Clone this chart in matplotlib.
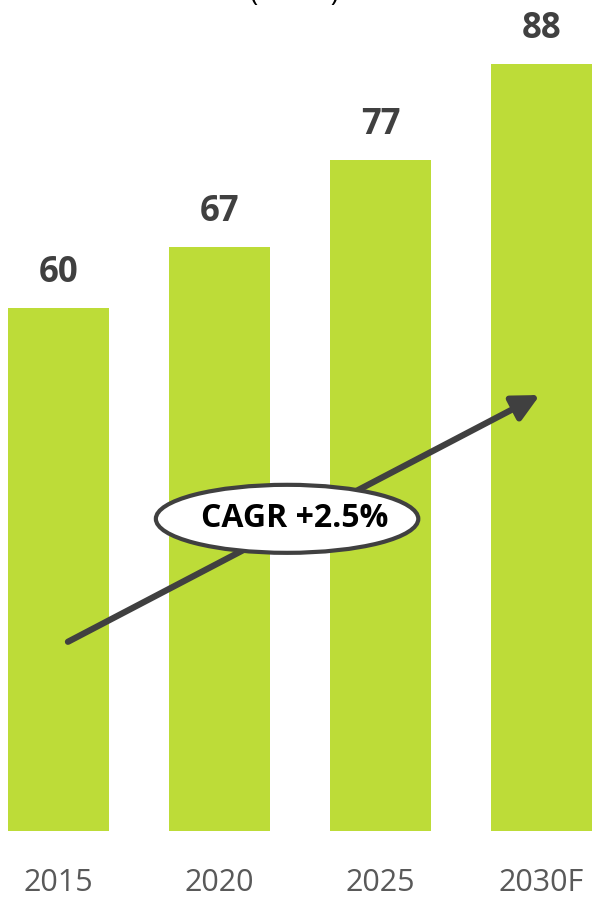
import matplotlib.pyplot as plt
from matplotlib.patches import Ellipse

# dados do gráfico
anos = ["2015", "2020", "2025", "2030F"]
valores = [60, 67, 77, 88]
cagr_texto = "CAGR +2.5%"

plt.rcParams['font.family'] = ['Open Sans', 'DejaVu Sans']

fig = plt.figure(figsize=(5.93, 8.97), dpi=100)
ax = fig.add_axes([0, 66 / 897, 1, 831 / 897])

x = list(range(len(anos)))
ax.bar(x, valores, width=0.627, color="#BDDC38")

for xi, v in zip(x, valores):
    ax.text(xi, v + 1.9, str(v), ha="center", va="bottom", fontsize=25,
            fontweight="bold", color="#404040")

for xi, a in zip(x, anos):
    ax.text(xi, -4.3, a, ha="center", va="top", fontsize=22, color="#595959")

ax.set_xlim(-0.363, 3.32)
ax.set_ylim(0, 95.3)
ax.axis("off")

# seta do CAGR
ax.annotate("", xy=(2.99, 50.0), xytext=(0.059, 21.7),
            arrowprops=dict(arrowstyle="-|>,head_length=1.6,head_width=0.8",
                            color="#404040", lw=4.5, shrinkA=0, shrinkB=0))

elipse = Ellipse((1.42, 35.8), 1.63, 7.8, facecolor="white", edgecolor="#404040",
                 lw=3, zorder=5)
ax.add_patch(elipse)
ax.text(1.47, 35.8, cagr_texto, ha="center", va="center", fontsize=23,
        fontweight="bold", color="black", zorder=6)

# título cortado no topo
fig.text(0.497, 1.0 - 1 / 897, "(          )", ha="center", va="baseline",
         fontsize=20, color="black")

fig.savefig("out.png", dpi=100)
